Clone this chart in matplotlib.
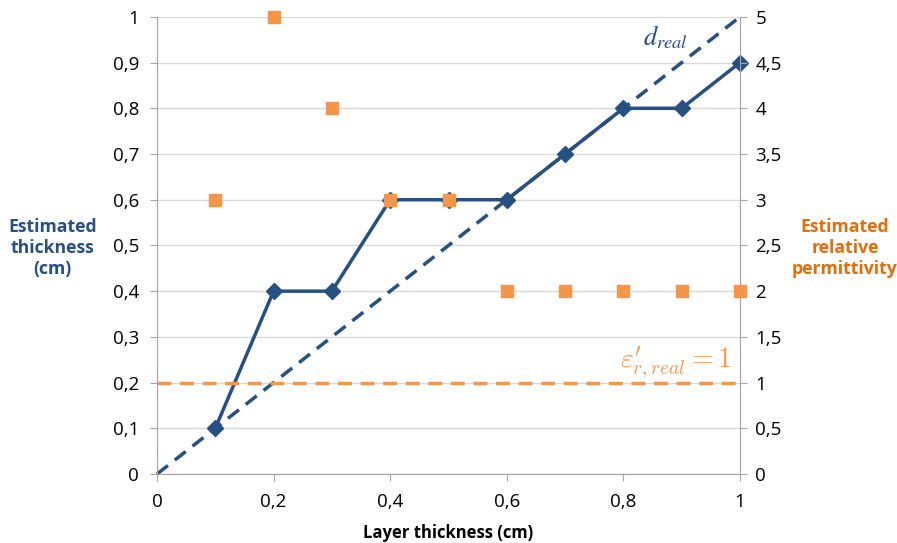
import matplotlib
matplotlib.use("Agg")
import matplotlib.pyplot as plt
from matplotlib.ticker import FuncFormatter, MultipleLocator

# data
layer = [0.1, 0.2, 0.3, 0.4, 0.5, 0.6, 0.7, 0.8, 0.9, 1.0]
est_thickness = [0.1, 0.4, 0.4, 0.6, 0.6, 0.6, 0.7, 0.8, 0.8, 0.9]
est_permittivity = [3, 5, 4, 3, 3, 2, 2, 2, 2, 2]
real_line_x = [0, 1]
real_line_y = [0, 1]
eps_real = 1

blue = "#264F82"
orange = "#F79646"
label_orange = "#E46C0A"
grey = "#A6A6A6"

plt.rcParams["font.family"] = ["Open Sans", "DejaVu Sans"]
plt.rcParams["mathtext.fontset"] = "stix"


def comma(v, pos):
    s = f"{v:.2f}".rstrip("0").rstrip(".")
    return s.replace(".", ",")


fig = plt.figure(figsize=(8.97, 5.43), dpi=100)
ax = fig.add_axes([0.175, 0.127, 0.650, 0.842])
ax2 = ax.twinx()

ax.set_xlim(0, 1)
ax.set_ylim(0, 1)
ax2.set_ylim(0, 5)

ax.yaxis.set_major_locator(MultipleLocator(0.1))
ax.xaxis.set_major_locator(MultipleLocator(0.2))
ax2.yaxis.set_major_locator(MultipleLocator(0.5))
for a in (ax.xaxis, ax.yaxis, ax2.yaxis):
    a.set_major_formatter(FuncFormatter(comma))

ax.grid(axis="y", color="#D9D9D9", lw=1)
ax.set_axisbelow(True)
ax.set_zorder(ax2.get_zorder() - 1)
ax.patch.set_visible(True)
ax2.patch.set_visible(False)

ax.plot(real_line_x, real_line_y, color=blue, lw=2.5, ls=(0, (4, 2.5)), zorder=2,
        clip_on=False)
ax2.plot([0, 1], [eps_real, eps_real], color=orange, lw=2.5, ls=(0, (4, 2.5)), zorder=2,
         clip_on=False)
ax.plot(layer, est_thickness, color=blue, lw=2.5, marker="D", ms=8, zorder=3,
        clip_on=False)
ax2.scatter(layer, est_permittivity, marker="s", s=75, color=orange, zorder=4,
            clip_on=False)

for a in (ax, ax2):
    a.spines["top"].set_visible(False)
    for side in ("left", "right", "bottom"):
        a.spines[side].set_color(grey)
    a.tick_params(colors="black", labelsize=13.5, length=5, color=grey)

ax.tick_params(axis="x", pad=9)
ax.tick_params(axis="y", pad=8)
ax2.tick_params(axis="y", pad=6)

ax.set_xlabel("Layer thickness (cm)", fontsize=12, fontweight="bold", labelpad=9)
fig.text(0.0585, 0.543, "Estimated\nthickness\n(cm)", ha="center", va="center",
         fontsize=12.7, fontweight="bold", color=blue, linespacing=1.2)
fig.text(0.942, 0.543, "Estimated\nrelative\npermittivity", ha="center", va="center",
         fontsize=12.7, fontweight="bold", color=label_orange, linespacing=1.2)

ax.text(0.833, 0.955, r"$d_{real}$", color=blue, fontsize=19, ha="left", va="center")
ax2.text(0.985, 1.22, r"$\varepsilon^{\prime}_{r,real}=1$", color=orange, fontsize=20,
         ha="right", va="center", math_fontfamily="cm")

fig.savefig("out.png", dpi=100)
